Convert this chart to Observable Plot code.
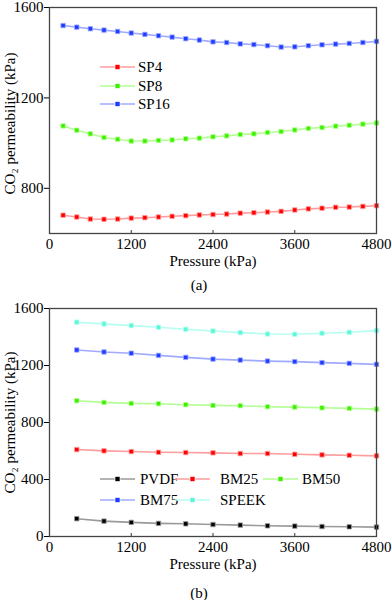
<!DOCTYPE html>
<html>
<head>
<meta charset="utf-8">
<script src="https://cdn.jsdelivr.net/npm/d3@7"></script>
<script src="https://cdn.jsdelivr.net/npm/@observablehq/plot@0.6"></script>
<style>
  html, body { margin: 0; padding: 0; background: #fff; }
  #wrap { position: relative; width: 392px; height: 600px; overflow: hidden; font-family: "Liberation Serif", "Times New Roman", serif; color: #000; }
  .abs { position: absolute; }
  .cap { position: absolute; width: 392px; text-align: center; font-size: 15px; line-height: 16px; }
  .leg { position: absolute; display: flex; align-items: center; font-size: 15px; line-height: 16px; white-space: nowrap; }
  .leg svg { display: block; }
</style>
</head>
<body>
<div id="wrap">
  <div id="panelA" class="abs" style="left:0;top:0"></div>
  <div id="panelB" class="abs" style="left:0;top:300px"></div>
</div>
<script>
// ---------- data ----------
const xTicks = [0, 1200, 2400, 3600, 4800];
const yTicksA = [800, 1200, 1600];
const yTicksB = [0, 400, 800, 1200, 1600];
const xLabel = "Pressure (kPa)";
const yLabel = "CO\u2082 permeability (kPa)";

const pressureA = [200, 400, 600, 800, 1000, 1200, 1400, 1600, 1800, 2000, 2200, 2400,
                   2600, 2800, 3000, 3200, 3400, 3600, 3800, 4000, 4200, 4400, 4600, 4800];
const sp4  = [681, 673, 664, 663, 664, 668, 670, 673, 676, 679, 682, 684,
              686, 690, 692, 695, 698, 704, 709, 712, 716, 717, 720, 723];
const sp8  = [1076, 1057, 1041, 1025, 1017, 1009, 1009, 1012, 1014, 1019, 1022, 1028,
              1032, 1038, 1041, 1047, 1051, 1058, 1065, 1069, 1075, 1079, 1084, 1089];
const sp16 = [1520, 1513, 1506, 1500, 1494, 1487, 1481, 1475, 1469, 1462, 1456, 1448,
              1445, 1439, 1436, 1431, 1425, 1426, 1431, 1435, 1438, 1441, 1445, 1450];

const pressureB = [400, 800, 1200, 1600, 2000, 2400, 2800, 3200, 3600, 4000, 4400, 4800];
const pvdf  = [125, 108, 99, 92, 89, 84, 80, 75, 73, 70, 68, 66];
const bm25  = [610, 601, 596, 591, 589, 587, 582, 582, 577, 573, 570, 566];
const bm50  = [953, 941, 934, 932, 925, 920, 918, 911, 908, 903, 899, 894];
const bm75  = [1309, 1295, 1286, 1271, 1257, 1245, 1238, 1231, 1227, 1220, 1215, 1208];
const speek = [1504, 1492, 1480, 1468, 1454, 1442, 1431, 1421, 1419, 1426, 1433, 1445];

const namesA = ["SP4", "SP8", "SP16"];
const valuesA = [sp4, sp8, sp16];
const namesB = ["PVDF", "BM25", "BM50", "BM75", "SPEEK"];
const valuesB = [pvdf, bm25, bm50, bm75, speek];

// ---------- styles ----------
const markColor = { SP4: "#ff0000", SP8: "#3cf000", SP16: "#1e3cff",
                    PVDF: "#000000", BM25: "#ff0000", BM50: "#3cf000", BM75: "#1e3cff", SPEEK: "#5ff5d8" };
const lineColor = { SP4: "#ff9c9c", SP8: "#b2ff92", SP16: "#a0aaff",
                    PVDF: "#9a9a9a", BM25: "#ff9c9c", BM50: "#b2ff92", BM75: "#a0aaff", SPEEK: "#b4fff0" };

const FONT = "'Liberation Serif', 'Times New Roman', serif";

function panel({ x, names, values, yDomain, yTicks, height, marginTop, marginBottom, yLabelDy }) {
  const plotH = height - marginTop - marginBottom;
  const series = names.map((n, k) => ({ name: n, pts: values[k].map((v, i) => ({ x: x[i], y: v })) }));
  const marks = [
    Plot.tickX(xTicks, { x: d => d, insetTop: plotH - 3, stroke: "#333", strokeWidth: 1 })
  ];
  for (const s of series) {
    marks.push(Plot.line(s.pts, { x: "x", y: "y", stroke: lineColor[s.name], strokeWidth: 1.6 }));
  }
  for (const s of series) {
    marks.push(Plot.dot(s.pts, { x: "x", y: "y", symbol: "square", r: 2.5,
      fill: markColor[s.name], stroke: lineColor[s.name], strokeWidth: 0.8 }));
  }
  marks.push(Plot.frame({ stroke: "#444", strokeWidth: 1.3 }));
  marks.push(Plot.text([yLabel], { frameAnchor: "left", textAnchor: "middle", lineAnchor: "middle",
    rotate: -90, dx: -39, dy: yLabelDy, fontSize: 15, fill: "#000" }));
  marks.push(Plot.text([xLabel], { frameAnchor: "bottom", textAnchor: "middle", lineAnchor: "middle",
    dy: 28, fontSize: 15, fill: "#000" }));
  return Plot.plot({
    width: 392, height,
    marginLeft: 49, marginRight: 16, marginTop, marginBottom,
    style: { fontFamily: FONT, fontSize: "15px", color: "#000", background: "transparent", overflow: "visible" },
    x: { domain: [0, 4800], ticks: xTicks, tickSize: 0, tickPadding: 5, label: null, tickFormat: d3.format("d") },
    y: { domain: yDomain, ticks: yTicks, tickSize: 5, tickPadding: 1, label: null, tickFormat: d3.format("d") },
    marks
  });
}

document.getElementById("panelA").appendChild(panel({
  x: pressureA, names: namesA, values: valuesA, yDomain: [600, 1600], yTicks: yTicksA,
  height: 270, marginTop: 7, marginBottom: 37, yLabelDy: 3
}));
document.getElementById("panelB").appendChild(panel({
  x: pressureB, names: namesB, values: valuesB, yDomain: [0, 1600], yTicks: yTicksB,
  height: 275, marginTop: 8, marginBottom: 39, yLabelDy: 0
}));

// ---------- captions ----------
const wrap = document.getElementById("wrap");
function caption(text, top) {
  const d = document.createElement("div");
  d.className = "cap"; d.style.left = "3px"; d.style.top = top + "px"; d.textContent = text;
  wrap.appendChild(d);
}
caption("(a)", 277);
caption("(b)", 585);

// ---------- legends ----------
function legend(name, left, cy, textLeft) {
  const d = document.createElement("div");
  d.className = "leg";
  d.style.left = left + "px"; d.style.top = (cy - 8) + "px";
  const w = textLeft - left;
  const ns = "http://www.w3.org/2000/svg";
  const svg = document.createElementNS(ns, "svg");
  svg.setAttribute("width", w); svg.setAttribute("height", 16);
  const sw = 35;
  const line = document.createElementNS(ns, "line");
  line.setAttribute("x1", 0); line.setAttribute("x2", sw); line.setAttribute("y1", 8); line.setAttribute("y2", 8);
  line.setAttribute("stroke", lineColor[name]); line.setAttribute("stroke-width", 1.6);
  svg.appendChild(line);
  const r = document.createElementNS(ns, "rect");
  r.setAttribute("x", sw / 2 - 2.2); r.setAttribute("y", 5.8); r.setAttribute("width", 4.4); r.setAttribute("height", 4.4);
  r.setAttribute("fill", markColor[name]); r.setAttribute("stroke", "#fff"); r.setAttribute("stroke-width", 1.4);
  r.setAttribute("paint-order", "stroke");
  svg.appendChild(r);
  d.appendChild(svg);
  const t = document.createElement("span"); t.textContent = name;
  d.appendChild(t);
  wrap.appendChild(d);
}
legend("SP4", 100, 67, 138);
legend("SP8", 100, 85.5, 138);
legend("SP16", 100, 104, 138);

legend("PVDF", 100, 479, 140);
legend("BM25", 175, 479, 220);
legend("BM50", 263, 479, 302);
legend("BM75", 100, 500, 140);
legend("SPEEK", 175, 500, 220);
</script>
</body>
</html>
